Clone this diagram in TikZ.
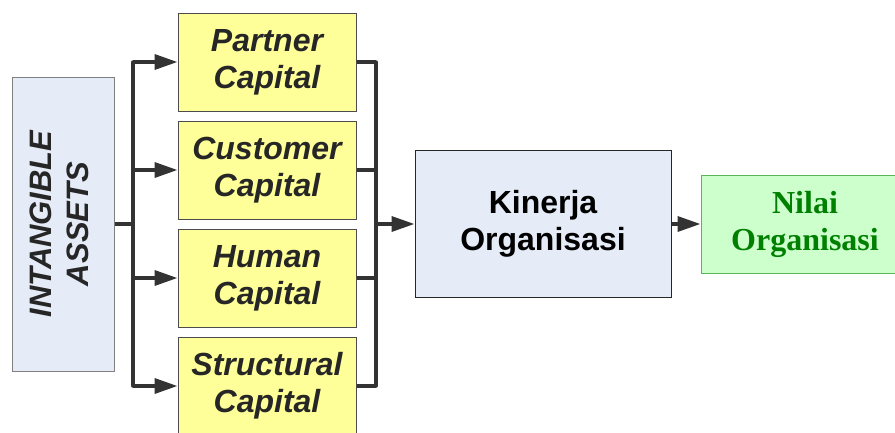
\documentclass[tikz,border=0pt]{standalone}
\usepackage{fontspec}
\usepackage{graphicx}
\setmainfont{Liberation Sans}
\newfontfamily\nilaifont{Liberation Serif}
\usetikzlibrary{arrows.meta}
\definecolor{IABlue}{RGB}{230,236,247}
\definecolor{CapYellow}{RGB}{255,255,153}
\definecolor{NilaiGreen}{RGB}{204,255,204}
\definecolor{NilaiDGreen}{RGB}{0,128,0}
\definecolor{NilaiLine}{RGB}{90,180,90}
\definecolor{LineGray}{RGB}{51,51,51}

\tikzset{
  iabox/.style={draw=gray, fill=IABlue, line width=1pt, minimum width=102, minimum height=294, inner sep=0pt,
    font=\fontsize{31}{37}\selectfont\bfseries\itshape, text=black!85},
  capbox/.style={draw=black!70, fill=CapYellow, line width=1pt, minimum width=178, minimum height=98, inner sep=0pt,
    align=center, font=\fontsize{32}{37}\selectfont\bfseries\itshape, text=black!85},
  kobox/.style={draw=black!85, fill=IABlue, line width=1pt, minimum width=256, minimum height=147, inner sep=0pt,
    align=center, font=\fontsize{32}{37}\selectfont\bfseries},
  nobox/.style={draw=NilaiLine, fill=NilaiGreen, line width=1pt, minimum width=208, minimum height=98, inner sep=0pt,
    align=center, font=\fontsize{32}{37}\selectfont\nilaifont\bfseries, text=NilaiDGreen},
  bus/.style={draw=LineGray, line width=3.5pt},
  flow/.style={draw=LineGray, line width=3.5pt, -{Triangle[length=23pt, width=15pt]}},
}

\begin{document}
\begin{tikzpicture}[x=1pt, y=-1pt]
\useasboundingbox (0,0) rectangle (895,432); % page 895 x 432

\node[iabox] (ia) at (63,224) {\rotatebox{90}{\begin{tabular}{@{}c@{}}INTANGIBLE\\ASSETS\end{tabular}}};

\node[capbox] (pc) at (267,62) {Partner\\Capital};
\node[capbox] (cc) at (267,170) {Customer\\Capital};
\node[capbox] (hc) at (267,278) {Human\\Capital};
\node[capbox] (sc) at (267,386) {Structural\\Capital};

\node[kobox] (ko) at (543,224) {Kinerja\\Organisasi};
\node[nobox] (no) at (805,224) {Nilai\\Organisasi};

\coordinate (lbus) at (133,224); % left bus
\coordinate (rbus) at (376,224); % right bus

% fan out
\draw[bus] (ia.east) -- (lbus);
\draw[bus, line cap=round] (lbus |- pc.west) -- (lbus |- sc.west);
\draw[flow] (lbus |- pc.west) -- (pc.west);
\draw[flow] (lbus |- cc.west) -- (cc.west);
\draw[flow] (lbus |- hc.west) -- (hc.west);
\draw[flow] (lbus |- sc.west) -- (sc.west);

% gather
\draw[bus, line cap=round] (rbus |- pc.east) -- (rbus |- sc.east);
\draw[bus] (pc.east) -- (rbus |- pc.east);
\draw[bus] (cc.east) -- (rbus |- cc.east);
\draw[bus] (hc.east) -- (rbus |- hc.east);
\draw[bus] (sc.east) -- (rbus |- sc.east);
\draw[flow] (rbus) -- (ko.west);

\draw[flow] (ko.east) -- (no.west);

\end{tikzpicture}
\end{document}
